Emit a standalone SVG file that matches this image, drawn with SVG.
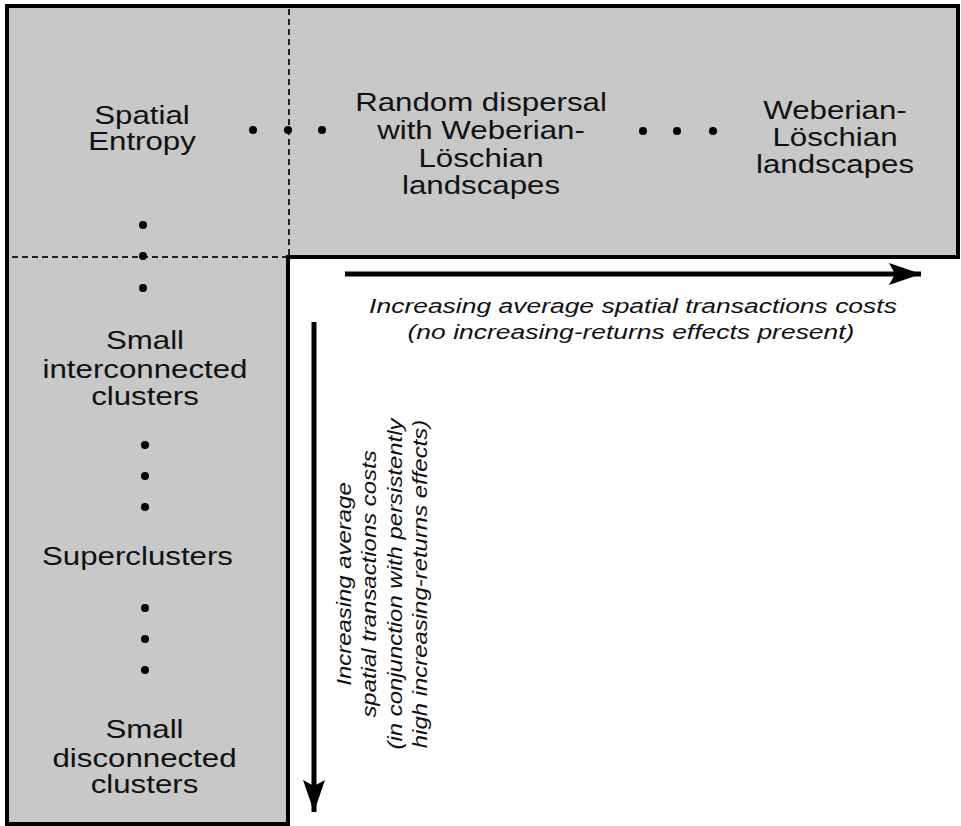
<svg xmlns="http://www.w3.org/2000/svg" width="961" height="826" viewBox="0 0 961 826">
<defs>
<style>
.lbl{font-family:"Liberation Sans",Arial,sans-serif;font-size:25px;fill:#111;text-anchor:middle}
.it{font-family:"Liberation Sans",Arial,sans-serif;font-size:21px;font-style:italic;fill:#111;text-anchor:middle}
.dash{stroke:#222;stroke-width:2;stroke-dasharray:6 4;fill:none}
.dot{fill:#000}
.arr{stroke:#000;stroke-width:5;fill:none}
</style>
<marker id="ah" markerWidth="34" markerHeight="24" refX="32" refY="12" orient="auto" markerUnits="userSpaceOnUse">
<path d="M0,1 L32,12 L0,23 L6,12 Z" fill="#000"/>
</marker>
</defs>
<rect width="961" height="826" fill="#fff"/>
<g id="frame">
<path d="M7,6 H958 V257 H288 V824 H7 Z" fill="#c8c8c8" stroke="#000" stroke-width="4"/>
<line class="dash" x1="289" y1="9" x2="289" y2="255"/>
<line class="dash" x1="12" y1="257" x2="286" y2="257"/>
</g>
<g id="node-spatial-entropy">
<text class="lbl" transform="translate(142,124) scale(1.25,1)">Spatial</text>
<text class="lbl" transform="translate(142,150) scale(1.25,1)">Entropy</text>
</g>
<g id="node-random-dispersal">
<text class="lbl" transform="translate(481,111) scale(1.25,1)">Random dispersal</text>
<text class="lbl" transform="translate(481,139) scale(1.25,1)">with Weberian-</text>
<text class="lbl" transform="translate(481,167) scale(1.25,1)">Löschian</text>
<text class="lbl" transform="translate(481,194) scale(1.25,1)">landscapes</text>
</g>
<g id="node-weberian">
<text class="lbl" transform="translate(835,119) scale(1.25,1)">Weberian-</text>
<text class="lbl" transform="translate(835,146) scale(1.25,1)">Löschian</text>
<text class="lbl" transform="translate(835,173) scale(1.25,1)">landscapes</text>
</g>
<g id="node-small-interconnected">
<text class="lbl" transform="translate(145,349) scale(1.25,1)">Small</text>
<text class="lbl" transform="translate(145,378) scale(1.25,1)">interconnected</text>
<text class="lbl" transform="translate(145,405) scale(1.25,1)">clusters</text>
</g>
<g id="node-superclusters">
<text class="lbl" transform="translate(137.5,565) scale(1.25,1)">Superclusters</text>
</g>
<g id="node-small-disconnected">
<text class="lbl" transform="translate(144.5,738) scale(1.25,1)">Small</text>
<text class="lbl" transform="translate(144.5,767) scale(1.25,1)">disconnected</text>
<text class="lbl" transform="translate(144.5,793) scale(1.25,1)">clusters</text>
</g>
<g id="dots">
<circle class="dot" cx="253" cy="130" r="4"/>
<circle class="dot" cx="288" cy="130" r="4"/>
<circle class="dot" cx="322" cy="130" r="4"/>
<circle class="dot" cx="643" cy="131" r="4"/>
<circle class="dot" cx="677" cy="131" r="4"/>
<circle class="dot" cx="713" cy="131" r="4"/>
<circle class="dot" cx="143" cy="225" r="4"/>
<circle class="dot" cx="143" cy="256" r="4"/>
<circle class="dot" cx="143" cy="288" r="4"/>
<circle class="dot" cx="145" cy="445" r="4"/>
<circle class="dot" cx="145" cy="476" r="4"/>
<circle class="dot" cx="145" cy="507" r="4"/>
<circle class="dot" cx="145" cy="608" r="4"/>
<circle class="dot" cx="145" cy="639" r="4"/>
<circle class="dot" cx="145" cy="670" r="4"/>
</g>
<g id="connectors">
<line class="arr" x1="345" y1="274" x2="921" y2="274" marker-end="url(#ah)"/>
<line class="arr" x1="314" y1="322" x2="314" y2="812" marker-end="url(#ah)"/>
</g>
<g id="axis-labels">
<text class="it" transform="translate(633,313) scale(1.26,1)">Increasing average spatial transactions costs</text>
<text class="it" transform="translate(631,339) scale(1.26,1)">(no increasing-returns effects present)</text>
<g transform="translate(0,584) rotate(-90) scale(1.14,1)">
<text class="it" x="0" y="351">Increasing average</text>
<text class="it" x="0" y="376">spatial transactions costs</text>
<text class="it" x="0" y="402">(in conjunction with persistently</text>
<text class="it" x="0" y="427">high increasing-returns effects)</text>
</g>
</g>
</svg>
